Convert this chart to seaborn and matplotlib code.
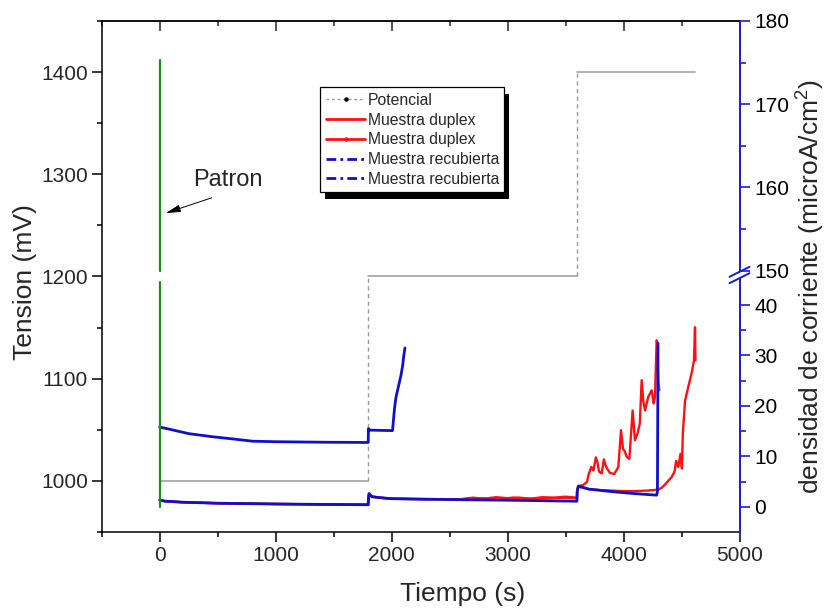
import numpy as np
import matplotlib
matplotlib.use("Agg")
import matplotlib.pyplot as plt
from matplotlib.lines import Line2D
from matplotlib.patches import Rectangle
import seaborn as sns

sns.set_style("ticks")
plt.rcParams['font.family'] = ['Liberation Sans', 'DejaVu Sans']
plt.rcParams['mathtext.default'] = 'regular'

# ---------------- data ----------------
# Potential programme (mV, left axis)
pot_t = [0, 1800, 1800, 3600, 3600, 4620]
pot_mv = [1000, 1000, 1200, 1200, 1400, 1400]

# Patron (bare reference) current spike at t=0 (right axis, two visible pieces)
patron_t_lo = [0, 0]
patron_i_lo = [0, 44.6]
patron_t_hi = [0, 0]
patron_i_hi = [150, 175.3]

# Muestra recubierta (blue) - upper curve
rec_a_t = [0, 100, 250, 450, 650, 800, 1000, 1400, 1798, 1800, 1810, 1900, 2008,
           2015, 2025, 2036, 2050, 2065, 2080, 2095, 2105, 2115]
rec_a_i = [15.8, 15.3, 14.5, 13.9, 13.4, 13.0, 12.9, 12.8, 12.75, 15.5, 15.2, 15.15, 15.1,
           17.0, 19.5, 21.5, 23.0, 24.5, 26.0, 28.0, 30.0, 31.5]

# Muestra recubierta (blue) - lower curve
rec_b_t = [0, 50, 200, 500, 1000, 1500, 1798, 1800, 1805, 1830, 1900, 2000, 2300, 2600,
           3000, 3300, 3598, 3600, 3610, 3700, 3900, 4100, 4285, 4292, 4295, 4297]
rec_b_i = [1.3, 1.1, 0.9, 0.7, 0.55, 0.45, 0.4, 1.6, 2.6, 2.0, 1.8, 1.6, 1.5, 1.4,
           1.3, 1.2, 1.1, 3.0, 4.1, 3.5, 3.0, 2.6, 2.3, 3.0, 20.0, 32.4]

# Muestra duplex (red) - first curve, fails near 4300 s
dup_a_t = [0, 50, 200, 500, 1000, 1500, 1798, 1800, 1805, 1830, 1900, 2000, 2300, 2600,
           2700, 2800, 2900, 3000, 3100, 3200, 3300, 3400, 3500, 3598, 3600, 3610, 3650,
           3684, 3700, 3722, 3740, 3761, 3775, 3788, 3811, 3830, 3845, 3860, 3883, 3920,
           3955, 3978, 3995, 4010, 4027, 4050, 4078, 4098, 4120, 4140, 4156, 4170, 4185,
           4213, 4242, 4260, 4271, 4285, 4292, 4300, 4308]
dup_a_i = [1.3, 1.1, 0.9, 0.7, 0.55, 0.45, 0.4, 1.6, 2.6, 2.0, 1.8, 1.6, 1.5, 1.5,
           1.8, 1.6, 1.9, 1.7, 1.8, 1.6, 1.9, 1.8, 2.0, 1.8, 3.2, 4.1, 4.3,
           4.9, 6.5, 7.9, 7.2, 9.8, 8.8, 7.0, 6.6, 9.4, 8.2, 7.5, 6.7, 6.5,
           7.9, 15.2, 11.5, 11.0, 9.9, 9.5, 19.1, 13.2, 14.5, 16.5, 25.1, 21.0, 19.1,
           21.8, 23.1, 20.5, 21.8, 33.0, 32.5, 25.0, 23.1]

# Muestra duplex (red) - second curve, fails near 4600 s
dup_b_t = [0, 50, 200, 500, 1000, 1500, 1798, 1800, 1805, 1830, 1900, 2000, 2300, 2600,
           2750, 2900, 3050, 3200, 3350, 3500, 3598, 3600, 3610, 3700, 3800, 3900, 4000,
           4100, 4200, 4300, 4330, 4357, 4380, 4415, 4440, 4453, 4472, 4491, 4503, 4511,
           4530, 4558, 4587, 4607, 4616, 4620]
dup_b_i = [1.3, 1.1, 0.9, 0.7, 0.55, 0.45, 0.4, 1.6, 2.6, 2.0, 1.8, 1.6, 1.5, 1.5,
           1.7, 1.5, 1.8, 1.6, 1.7, 1.8, 1.7, 3.2, 4.0, 3.5, 3.3, 3.2, 3.1,
           3.1, 3.2, 3.4, 3.8, 4.4, 5.0, 5.9, 7.0, 9.1, 7.9, 10.5, 7.6, 14.5,
           21.0, 23.8, 26.5, 29.0, 35.6, 29.0]

legend_labels = ["Potencial", "Muestra duplex", "Muestra duplex",
                 "Muestra recubierta", "Muestra recubierta"]

x_major = [0, 1000, 2000, 3000, 4000, 5000]
x_minor = [-500, 500, 1500, 2500, 3500, 4500]
y_major = [1000, 1100, 1200, 1300, 1400]
y_minor = [950, 1050, 1150, 1250, 1350, 1450]
r_major = [0, 10, 20, 30, 40, 150, 160, 170, 180]
r_minor = [5, 15, 25, 35, 155, 165, 175]

# ---------------- colours ----------------
C_RED = '#ff1010'
C_BLUE = '#1010cc'
C_AXBLUE = '#1a1ad6'
C_GREEN = '#1f8a1f'
C_GRAY = '#9a9a9a'

TICK_FS = 15
LABEL_FS = 19

# ---------------- broken right scale ----------------
B_LO, B_HI, K = 46.0, 149.5, 1.65

def fwd(v):
    v = np.asarray(v, dtype=float)
    return np.where(v <= B_LO, v, np.where(v >= B_HI, B_LO + (v - B_HI) * K, B_LO))

def inv(u):
    u = np.asarray(u, dtype=float)
    return np.where(u <= B_LO, u, B_HI + (u - B_LO) / K)

fig = plt.figure(figsize=(8.33, 6.1), dpi=100)
ax = fig.add_axes([0.1221, 0.1279, 0.7657, 0.8377])
ax2 = ax.twinx()

# ---- left axis: potential ----
for i in range(len(pot_t) - 1):
    xs = [pot_t[i], pot_t[i + 1]]
    ys = [pot_mv[i], pot_mv[i + 1]]
    if ys[0] == ys[1]:
        sns.lineplot(x=xs, y=ys, ax=ax, color=C_GRAY, lw=1.1, sort=False,
                     estimator=None, legend=False)
    else:
        ax.plot(xs, ys, color=C_GRAY, lw=1.0, ls=(0, (3, 2.5)))

ax.set_xlim(-500, 5000)
ax.set_ylim(950, 1450)
ax.set_xticks(x_major)
ax.set_xticks(x_minor, minor=True)
ax.set_yticks(y_major)
ax.set_yticks(y_minor, minor=True)
ax.tick_params(axis='both', which='major', direction='out', length=7, width=1.1,
               labelsize=TICK_FS, color='k', pad=3)
ax.tick_params(axis='both', which='minor', direction='out', length=3.6, width=1.1, color='k')
ax.tick_params(axis='y', right=False)
for s in ['left', 'bottom', 'top']:
    ax.spines[s].set_linewidth(1.1)
    ax.spines[s].set_color('k')
ax.spines['right'].set_visible(False)
ax.set_xlabel('Tiempo (s)', fontsize=LABEL_FS)
ax.xaxis.set_label_coords(0.566, -0.122)
ax.xaxis.label.set_va('center')
ax.set_ylabel('Tension (mV)', fontsize=LABEL_FS)
ax.yaxis.set_label_coords(-0.12, 0.49)
ax.yaxis.label.set_va('center')

sec = ax.secondary_xaxis('top')
sec.set_xticks(x_major)
sec.set_xticks(x_minor, minor=True)
sec.tick_params(axis='x', which='major', direction='in', length=7, width=1.1, labeltop=False)
sec.tick_params(axis='x', which='minor', direction='in', length=3.6, width=1.1)
sec.spines['top'].set_linewidth(1.1)

# Patron annotation
ax.annotate('', xy=(52, 1262), xytext=(449, 1277),
            arrowprops=dict(arrowstyle='-|>,head_length=0.9,head_width=0.22',
                            color='k', lw=0.7, shrinkA=0, shrinkB=0))
ax.text(285, 1294, 'Patron', fontsize=17, va='center', ha='left')

# ---- right axis: current density ----
ax2.set_yscale('function', functions=(fwd, inv))
lw = 1.7
sns.lineplot(x=dup_b_t, y=dup_b_i, ax=ax2, color=C_RED, lw=lw, sort=False, estimator=None, legend=False)
sns.lineplot(x=dup_a_t, y=dup_a_i, ax=ax2, color=C_RED, lw=lw, sort=False, estimator=None, legend=False)
sns.lineplot(x=rec_a_t, y=rec_a_i, ax=ax2, color=C_BLUE, lw=lw + 0.3, sort=False, estimator=None, legend=False)
sns.lineplot(x=rec_b_t, y=rec_b_i, ax=ax2, color=C_BLUE, lw=lw + 0.3, sort=False, estimator=None, legend=False)
sns.lineplot(x=patron_t_lo, y=patron_i_lo, ax=ax2, color=C_GREEN, lw=1.6, sort=False, estimator=None, legend=False)
sns.lineplot(x=patron_t_hi, y=patron_i_hi, ax=ax2, color=C_GREEN, lw=1.6, sort=False, estimator=None, legend=False)

ax2.set_ylim(-5, 180)
ax2.set_xlim(-500, 5000)
ax2.set_yticks(r_major)
ax2.set_yticklabels([str(v) for v in r_major])
ax2.set_yticks(r_minor, minor=True)
ax2.tick_params(axis='y', which='major', direction='out', length=7.5, width=1.2,
                color=C_AXBLUE, labelsize=TICK_FS, labelcolor='k', pad=3)
ax2.tick_params(axis='y', which='minor', direction='out', length=4, width=1.2, color=C_AXBLUE)
for s in ['left', 'bottom', 'top']:
    ax2.spines[s].set_visible(False)
ax2.spines['right'].set_color(C_AXBLUE)
ax2.spines['right'].set_linewidth(1.4)
ax2.set_ylabel('densidad de corriente (microA/cm$^2$)', fontsize=LABEL_FS)
ax2.yaxis.set_label_coords(1.1115, 0.48)
ax2.yaxis.label.set_va('center')

# break marks on right spine
pw = ax2.get_position().width * 833
ph = ax2.get_position().height * 610
yb = (532 - 275) / 511.0
dx, dy, sep = 10 / pw, 5 / ph, 3.2 / ph
ax2.add_patch(Rectangle((1 - 2 / pw, yb - sep), 4 / pw, 2 * sep, transform=ax2.transAxes,
                        facecolor='white', edgecolor='none', clip_on=False, zorder=10))
for off in (-sep, sep):
    ax2.plot([1 - dx, 1 + dx], [yb + off - dy, yb + off + dy], transform=ax2.transAxes,
             color=C_AXBLUE, lw=1.4, clip_on=False, zorder=11)

# legend
handles = [
    Line2D([], [], color=C_GRAY, lw=1.0, ls=(0, (2, 2)), marker='o', markersize=2.2,
           markerfacecolor='k', markeredgecolor='k'),
    Line2D([], [], color=C_RED, lw=2.0),
    Line2D([], [], color=C_RED, lw=2.0, marker='o', markersize=2.2),
    Line2D([], [], color=C_BLUE, lw=2.0, ls=(0, (3.5, 1.5, 1, 1.5))),
    Line2D([], [], color=C_BLUE, lw=2.0, ls=(0, (3.5, 1.5, 1, 1.5))),
]
leg = ax2.legend(handles, legend_labels, loc='upper left', bbox_to_anchor=(0.343, 0.870),
                 borderaxespad=0, fontsize=11.3, handlelength=2.5, handletextpad=0.15,
                 labelspacing=0.3, borderpad=0.35, fancybox=False, framealpha=1,
                 edgecolor='k', numpoints=1)
leg.get_frame().set_linewidth(0.9)
leg.set_zorder(20)

fig.canvas.draw()
bb = leg.get_frame().get_window_extent().transformed(ax2.transAxes.inverted())
ax2.add_patch(Rectangle((bb.x0 + 5 / pw, bb.y0 - 7 / ph), bb.width, bb.height,
                        transform=ax2.transAxes, facecolor='k', edgecolor='none',
                        clip_on=False, zorder=19))

fig.savefig('out.png', dpi=100)
